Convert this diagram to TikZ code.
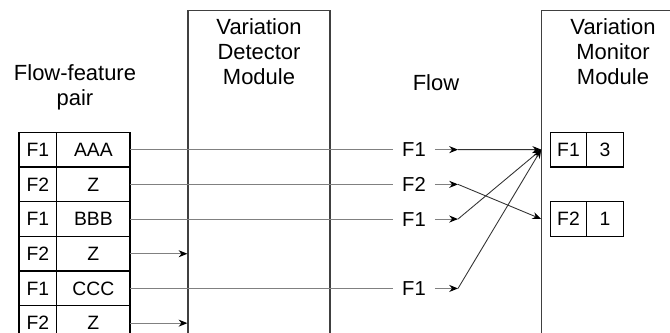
\documentclass[tikz,border=0pt]{standalone}
\usepackage{fontspec}
\setmainfont{Liberation Sans}
\usetikzlibrary{positioning,arrows.meta}
\tikzset{
  cell/.style={draw, line width=0.7pt, outer sep=0pt, inner sep=0pt, minimum height=0.694cm, font=\fontsize{11}{13}\selectfont},
  fcell/.style={cell, minimum width=0.754cm},
  vcell/.style={cell, minimum width=1.466cm},
  mcell/.style={cell, minimum width=0.73cm},
  module/.style={draw, black!75, line width=0.7pt, minimum width=2.84cm, minimum height=8cm, anchor=north},
  head/.style={align=center, font=\fontsize{12.5}{14.2}\selectfont},
  flow/.style={inner xsep=5pt, inner ysep=1.5pt, font=\fontsize{11.5}{13}\selectfont},
  link/.style={black!50, line width=0.6pt},
  cross/.style={black!80, line width=0.5pt}
}
\begin{document}
\begin{tikzpicture}[>={Stealth[length=5pt,width=4pt,color=black]}, x=0.02cm, y=-0.02cm]
\clip (0,0) rectangle (670,332);
% modules
\node[module] (det) at (259,10) {};
\node[module] (mon) at (612.8,10) {};
\node[head] (dettext) at (259,52) {Variation\\Detector\\Module};
\node[head] (montext) at (613,52) {Variation\\Monitor\\Module};
\node[head] (pairtext) at (75,87) {Flow-feature\\pair};
\node[head] (flowtext) at (436,83) {Flow};
% flow-feature table
\foreach \f/\v [count=\i] in {F1/AAA,F2/Z,F1/BBB,F2/Z,F1/CCC,F2/Z} {
  \node[fcell] (f\i) at (37.9,{132.3+34.7*(\i-0.5)}) {\f};
  \node[vcell, right=0pt of f\i] (v\i) {\v};
}
% monitor table
\node[mcell] (mf1) at (568.5,149.6) {F1};
\node[mcell, right=0pt of mf1] (mv1) {3};
\node[mcell] (mf2) at (568.5,219) {F2};
\node[mcell, right=0pt of mf2] (mv2) {1};
\coordinate (in1) at (mon.west |- mf1);
\coordinate (in2) at (mon.west |- mf2);
% flows out of the detector
\foreach \i/\l in {1/F1,2/F2,3/F1,5/F1} {
  \node[flow] (fl\i) at (414,{132.3+34.7*(\i-0.5)}) {\l};
  \coordinate (t\i) at (458,{132.3+34.7*(\i-0.5)});
  \draw[link] (v\i.east) -- (fl\i.west);
  \draw[link,->] (fl\i.east) -- (t\i);
}
\draw[link,->] (v4.east) -- (v4.east -| det.west);
\draw[link,->] (v6.east) -- (v6.east -| det.west);
% into the monitor
\draw[cross,->] (t1) -- (in1);
\draw[cross,->] (t3) -- (in1);
\draw[cross,->] (t5) -- (in1);
\draw[cross,->] (t2) -- (in2);
\end{tikzpicture}
\end{document}
